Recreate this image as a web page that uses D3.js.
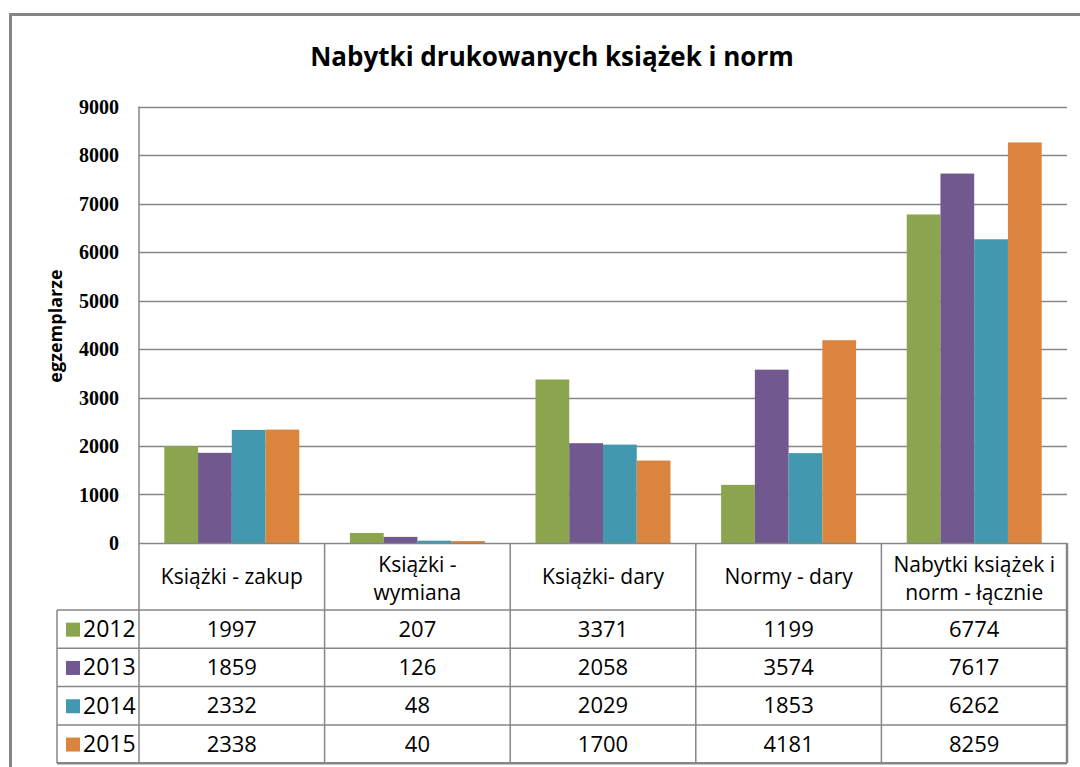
<!DOCTYPE html>
<html>
<head>
<meta charset="utf-8">
<script src="https://cdn.jsdelivr.net/npm/d3@7"></script>
<style>
    body { margin: 0; background: #fff; }
    svg { display: block; }
</style>
</head>
<body>
<svg id="chart" width="1080" height="767"></svg>
<script>

var categories = [["Książki - zakup"], ["Książki -", "wymiana"], ["Książki- dary"], ["Normy - dary"], ["Nabytki książek i", "norm - łącznie"]];
var years = ["2012", "2013", "2014", "2015"];
var colors = ["#8ba54e", "#71588f", "#4198af", "#db843d"];
var values2012 = [1997, 207, 3371, 1199, 6774];
var values2013 = [1859, 126, 2058, 3574, 7617];
var values2014 = [2332, 48, 2029, 1853, 6262];
var values2015 = [2338, 40, 1700, 4181, 8259];
var yTicks = [0, 1000, 2000, 3000, 4000, 5000, 6000, 7000, 8000, 9000];

var series = [values2012, values2013, values2014, values2015];
var lineColor = "#868686";
var sansFont = "'Open Sans', 'Noto Sans', sans-serif";

var svg = d3.select("#chart");

// outer frame of the chart object (runs off the picture at right and bottom)
svg.append("rect")
    .attr("x", 10.5)
    .attr("y", 14.5)
    .attr("width", 1100)
    .attr("height", 800)
    .attr("fill", "none")
    .attr("stroke", lineColor)
    .attr("stroke-width", 3);

svg.append("text")
    .attr("x", 552)
    .attr("y", 66)
    .attr("text-anchor", "middle")
    .attr("font-family", sansFont)
    .attr("font-weight", "bold")
    .attr("font-size", "26px")
    .style("fill", "#000")
    .text("Nabytki drukowanych książek i norm");

var plotLeft = 139, plotRight = 1067, plotTop = 106.5, zero = 543;

var xScale = d3.scaleBand()
    .domain(d3.range(categories.length))
    .range([plotLeft, plotRight]);

var inner = d3.scaleBand()
    .domain(d3.range(years.length))
    .range([0, xScale.bandwidth()])
    .paddingOuter(0.75);

var yScale = d3.scaleLinear()
    .domain([0, 9000])
    .range([zero, plotTop]);

// gridlines
svg.append("g")
    .selectAll("line")
    .data(yTicks.slice(1))
    .enter().append("line")
    .attr("x1", plotLeft)
    .attr("x2", plotRight)
    .attr("y1", function (d) { return Math.round(yScale(d)) + 0.5; })
    .attr("y2", function (d) { return Math.round(yScale(d)) + 0.5; })
    .attr("stroke", lineColor)
    .attr("stroke-width", 1.3);

// bars
series.forEach(function (vals, s) {
    svg.append("g")
        .selectAll("rect")
        .data(vals)
        .enter().append("rect")
        .attr("x", function (d, i) { return xScale(i) + inner(s); })
        .attr("y", function (d) { return yScale(d); })
        .attr("width", inner.bandwidth())
        .attr("height", function (d) { return zero - yScale(d); })
        .style("fill", colors[s]);
});

// y axis
var yAxis = svg.append("g")
    .attr("transform", "translate(" + plotLeft + ",0)")
    .call(d3.axisLeft(yScale).tickValues(yTicks).tickSize(0).tickPadding(20).tickFormat(d3.format("d")));

yAxis.select(".domain").remove();
yAxis.selectAll("text")
    .attr("dy", "0.33em")
    .attr("font-family", "'Liberation Serif', 'DejaVu Serif', serif")
    .attr("font-weight", "bold")
    .attr("font-size", "20px")
    .style("fill", "#000");

svg.append("text")
    .attr("transform", "translate(62,326) rotate(-90)")
    .attr("text-anchor", "middle")
    .attr("font-family", sansFont)
    .attr("font-weight", "bold")
    .attr("font-size", "18px")
    .style("fill", "#000")
    .text("egzemplarze");

// data table under the plot
var tableLeft = 57, headerBottom = 610, rowH = 38.3;
var rowY = d3.range(years.length + 1).map(function (i) { return headerBottom + i * rowH; });
var tableBottom = rowY[rowY.length - 1];

var table = svg.append("g")
    .attr("stroke", lineColor)
    .attr("fill", "none");

table.append("line")
    .attr("x1", plotLeft).attr("x2", plotRight)
    .attr("y1", zero + 0.5).attr("y2", zero + 0.5)
    .attr("stroke-width", 1.5);

table.selectAll(".hline")
    .data(rowY)
    .enter().append("line")
    .attr("class", "hline")
    .attr("x1", tableLeft).attr("x2", plotRight)
    .attr("y1", function (d) { return d; })
    .attr("y2", function (d) { return d; })
    .attr("stroke-width", function (d, i) { return i == rowY.length - 1 ? 2.5 : 1.5; });

var vx = d3.range(categories.length + 1).map(function (i) {
    return i < categories.length ? xScale(i) : plotRight;
});

table.selectAll(".vline")
    .data(vx)
    .enter().append("line")
    .attr("class", "vline")
    .attr("x1", function (d) { return d; })
    .attr("x2", function (d) { return d; })
    .attr("y1", function (d, i) { return i == 0 ? plotTop : zero; })
    .attr("y2", tableBottom)
    .attr("stroke-width", function (d, i) { return i == vx.length - 1 ? 2.5 : 1.5; });

table.append("line")
    .attr("x1", tableLeft).attr("x2", tableLeft)
    .attr("y1", headerBottom).attr("y2", tableBottom)
    .attr("stroke-width", 1.5);

// category headers
var headerMid = (zero + headerBottom) / 2;
categories.forEach(function (lines, i) {
    var t = svg.append("text")
        .attr("text-anchor", "middle")
        .attr("font-family", sansFont)
        .attr("font-size", "21px")
        .style("fill", "#000");
    lines.forEach(function (ln, j) {
        var y = lines.length == 1 ? headerMid + 7.5 : headerMid - 5 + j * 28;
        t.append("tspan")
            .attr("x", xScale(i) + xScale.bandwidth() / 2)
            .attr("y", y)
            .text(ln);
    });
});

// rows: legend key, year and values
years.forEach(function (yr, s) {
    var mid = (rowY[s] + rowY[s + 1]) / 2;

    svg.append("rect")
        .attr("x", 66)
        .attr("y", mid - 6.5)
        .attr("width", 14)
        .attr("height", 14)
        .style("fill", colors[s]);

    svg.append("text")
        .attr("x", 83)
        .attr("y", mid + 8)
        .attr("font-family", sansFont)
        .attr("font-size", "23px")
        .style("fill", "#000")
        .text(yr);

    svg.append("g")
        .selectAll("text")
        .data(series[s])
        .enter().append("text")
        .attr("x", function (d, i) { return xScale(i) + xScale.bandwidth() / 2; })
        .attr("y", mid + 7.7)
        .attr("text-anchor", "middle")
        .attr("font-family", sansFont)
        .attr("font-size", "22px")
        .style("fill", "#000")
        .text(function (d) { return d; });
});

</script>
</body>
</html>
